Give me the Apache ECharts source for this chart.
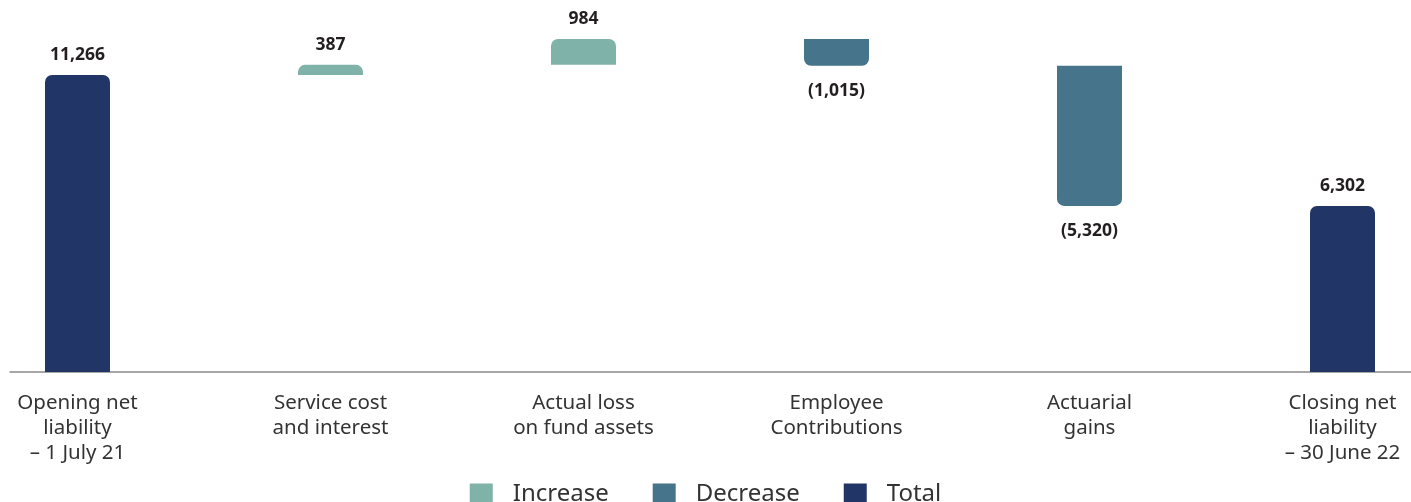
<!DOCTYPE html>
<html><head><meta charset="utf-8">
<script src="https://cdn.jsdelivr.net/npm/echarts@6/dist/echarts.min.js"></script>
<style>html,body{margin:0;padding:0;background:#fff}#c{width:1411px;height:502px}</style>
</head><body><div id="c"></div>
<script>
const categories = ["Opening net\nliability\n– 1 July 21", "Service cost\nand interest", "Actual loss\non fund assets", "Employee\nContributions", "Actuarial\ngains", "Closing net\nliability\n– 30 June 22"];
const changes = [11266, 387, 984, -1015, -5320, 6302];
const kinds = ["total", "increase", "increase", "decrease", "decrease", "total"];

const COLORS = {increase: "#7fb2a9", decrease: "#46748a", total: "#213566"};
const FONT = "Noto Sans";

const base = [], inc = [], dec = [], tot = [];
let run = 0;
changes.forEach((v, i) => {
  const k = kinds[i];
  if (k === "total") { base.push(0); tot.push(v); inc.push('-'); dec.push('-'); run = v; }
  else if (k === "increase") { base.push(run); inc.push(v); dec.push('-'); tot.push('-'); run += v; }
  else { run += v; base.push(run); dec.push(-v); inc.push('-'); tot.push('-'); }
});
const fmt = n => n.toLocaleString('en-US');
const labelStyle = {show: true, fontFamily: FONT, fontWeight: 'bold', fontSize: 17.5, color: '#231f20', distance: 11};

const chart = echarts.init(document.getElementById('c'), null, {renderer: 'canvas'});
chart.setOption({
  animation: false,
  grid: [
    {left: 77.5, right: 68.5, top: 3, bottom: 130},
    {left: 10, right: 0, top: 3, bottom: 130}
  ],
  legend: {
    data: ["Increase", "Decrease", "Total"],
    top: 477, left: 'center',
    itemWidth: 23, itemHeight: 21, itemGap: 44, icon: 'rect',
    textStyle: {fontFamily: FONT, fontSize: 24, color: '#333', padding: [0, 0, 0, 15]}
  },
  xAxis: [
    {type: 'category', gridIndex: 0, data: categories, boundaryGap: false,
     axisLine: {show: false}, axisTick: {show: false},
     axisLabel: {fontFamily: FONT, fontSize: 20.5, color: '#333', lineHeight: 25, margin: 19, interval: 0}},
    {type: 'category', gridIndex: 1, data: [''], boundaryGap: true,
     axisLine: {show: true, lineStyle: {color: '#8a8a8a', width: 1.5}}, axisTick: {show: false}, axisLabel: {show: false}}
  ],
  yAxis: [
    {type: 'value', gridIndex: 0, min: 0, max: 14000, show: false},
    {type: 'value', gridIndex: 1, min: 0, max: 1, show: false}
  ],
  series: [
    {name: 'base', type: 'bar', stack: 'w', data: base, barWidth: 65, itemStyle: {color: 'transparent'}, silent: true},
    {name: 'Increase', type: 'bar', stack: 'w', data: inc, barWidth: 65,
     itemStyle: {color: COLORS.increase, borderRadius: [7, 7, 0, 0]},
     label: Object.assign({}, labelStyle, {position: 'top', formatter: p => fmt(p.value)})},
    {name: 'Decrease', type: 'bar', stack: 'w', data: dec, barWidth: 65,
     itemStyle: {color: COLORS.decrease, borderRadius: [0, 0, 7, 7]},
     label: Object.assign({}, labelStyle, {position: 'bottom', distance: 16, formatter: p => '(' + fmt(p.value) + ')'})},
    {name: 'Total', type: 'bar', stack: 'w', data: tot, barWidth: 65,
     itemStyle: {color: COLORS.total, borderRadius: [7, 7, 0, 0]},
     label: Object.assign({}, labelStyle, {position: 'top', formatter: p => fmt(p.value)})}
  ]
});
</script></body></html>
